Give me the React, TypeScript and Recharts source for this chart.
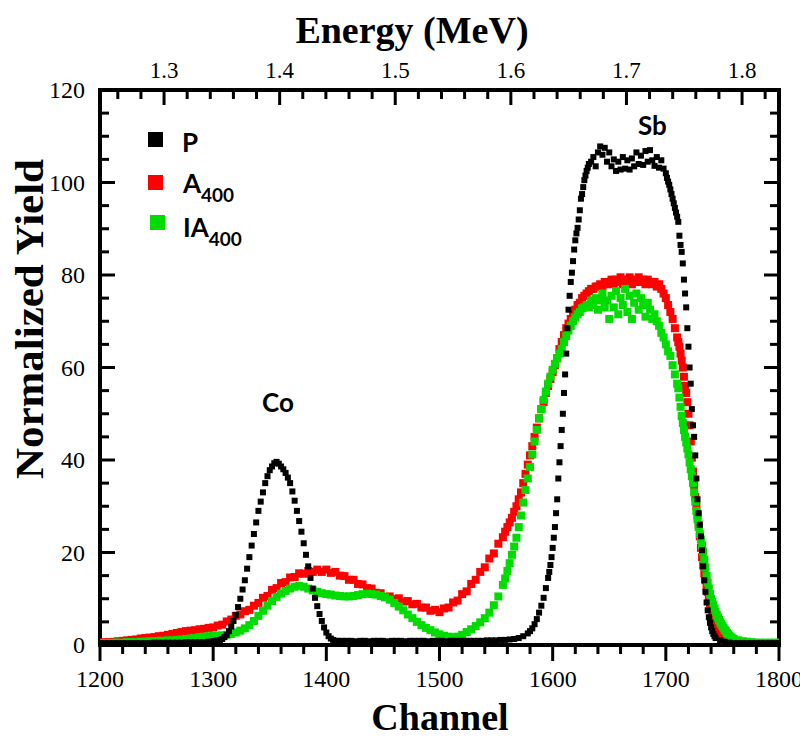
import { ScatterChart, Scatter, XAxis, YAxis, ReferenceArea } from "recharts";

// runs of [first channel, channel step, yields]
type Run = [number, number, number[]];

const P_RUNS: Run[] = [
  [1200, 4, [0.4, 0.4, 0.4, 0.4, 0.4, 0.4, 0.4, 0.4, 0.4, 0.4, 0.4, 0.4, 0.5, 0.5, 0.5, 0.5, 0.5, 0.5, 0.5, 0.6, 0.6, 0.6, 0.6, 0.6, 0.7]],
  [1298, 2, [0.7, 0.8, 0.9, 1.0, 1.1, 1.3, 1.7, 2.2, 3.0, 4.0, 5.2, 6.5, 8.2, 10, 12, 14, 16.5, 19, 21.5, 24, 26.5, 29, 31, 33, 35, 36.5, 37.8, 38.6, 39.3, 39.6, 39.2, 38.6, 38.0, 37.2, 36.2, 35.0, 33.2, 31.2, 29.0, 26.8, 24.5, 22.0, 19.5, 17.0, 14.5, 12.2, 10.2, 8.4, 6.7, 5.2, 3.8, 2.7, 1.9, 1.4, 1.1, 0.9, 0.9]],
  [1414, 4, [0.9, 0.9, 0.9, 0.8, 0.9, 0.9, 0.8, 0.9, 0.9, 0.9, 0.8, 0.9, 0.9, 0.9, 0.8, 0.9, 0.9, 0.9, 0.9, 0.8, 0.9, 0.9, 0.9, 0.8, 0.9, 0.9, 0.9, 0.9, 0.9, 0.9, 0.9, 0.9, 1.0, 1.0, 1.0, 1.1, 1.1, 1.2, 1.3, 1.5, 1.9, 2.5]],
  [1580, 2, [3.0, 3.6, 4.5, 5.6, 7.0, 8.5, 10.2, 12.3, 14.5]],
  [1597, 1, [15.8, 17.3, 19.0, 21.0, 23.2, 25.5, 28.5, 31.5, 36, 39.5, 43, 46.5, 50, 54.5, 58.5, 63, 68.5, 72.5, 75.5, 78.5, 80.5, 83, 85.5, 87.5, 89, 90.2, 92, 94, 96.5, 97.5, 99, 100.5, 101.5, 102.5, 103.2, 104]],
  [1634, 2, [104.5, 105.5, 103.5, 106.5, 107.8, 106, 107.5, 104.5, 106.5, 103.5, 105, 102.5, 104.5, 102.8, 105.5, 103, 104.8, 102.8, 105.2, 103.5, 106.5, 104, 105.8, 103.8, 106.8, 104.5, 107, 104.8, 103.6, 105.5, 103.2, 104.8, 103, 102]],
  [1701, 1, [101, 100.2, 99.5, 98.5, 97.5, 96.5, 95.5, 94.5, 93.5, 92.6, 91.5, 88.5, 86.5, 85, 82.5, 79, 76, 73, 68.5, 64.5, 60, 56.5, 51, 47.5, 45, 41, 36, 31.5, 28.5, 26, 23.5, 20.5, 17, 14, 11.5, 9.2, 7.5, 6, 4.8, 3.8, 3, 2.4, 1.9, 1.5]],
  [1748, 4, [1.0, 0.7, 0.5, 0.4, 0.4, 0.4, 0.4, 0.4, 0.4, 0.4, 0.4, 0.4, 0.4, 0.4]],
];

const A400_RUNS: Run[] = [
  [1200, 4, [0.5, 0.6, 0.6, 0.7, 0.8, 0.9, 1.0, 1.1, 1.2, 1.4, 1.5, 1.6, 1.7, 1.9, 2.0, 2.2, 2.4, 2.6, 2.8, 3.0, 3.1, 3.2, 3.4, 3.5, 3.7]],
  [1300, 4, [3.8, 4.2, 4.4, 5.1, 5.5, 6.3, 6.6, 7.3, 7.6, 8.5, 9.1, 10.2, 10.6, 11.9, 12.3, 13.4, 13.6, 14.6, 14.7, 15.5, 15.4, 16.0, 15.8, 16.3, 15.8, 16.3, 15.6, 15.8, 15.0, 14.9, 14.1, 14.1, 13.2, 13.1, 12.3, 12.2, 11.3, 11.2, 10.4, 10.5, 9.9, 10.1, 9.4, 9.5, 8.8, 8.9, 8.1, 8.1, 7.4, 7.6, 7.1, 7.9, 8.1, 9.2, 9.6, 11.0, 11.6, 13.2, 14.1, 15.8, 16.8, 18.7, 19.8, 21.9, 23.3]],
  [1558, 2, [24.5, 25.5, 26.5, 27.5, 28.8, 30, 31.5, 33, 35, 37, 39, 41, 43, 45, 47, 49, 51, 52.5, 54.5, 56, 57.5, 59, 60.5, 62, 64, 65.5, 67, 68.5, 69.5, 70.5, 71.5, 72.5, 73.5, 74, 75, 75.5, 76, 76.5, 77, 77, 77.5, 77.5, 78, 77.5, 78.5, 78, 78.5, 79, 78, 79, 78.5, 79.5, 78, 79, 78.5, 79.5, 78, 79, 78.5, 79.5, 78.5, 79, 78, 79, 78.5, 78, 78.5, 77.5, 78, 77, 76, 75, 73.5, 72, 70.5, 68.5, 66.5]],
  [1711, 1, [65.5, 64.5, 63, 61.5, 60, 58, 56, 54.5, 52.5, 50, 47.5, 44, 40.5, 37.5, 34.5, 32, 30, 28, 26, 23.5, 21, 19, 17.2, 15.5, 14, 12.8, 11.5, 10.2, 9, 8, 7, 6, 5, 4.2, 3.5, 2.9, 2.4, 2, 1.6, 1.3]],
  [1752, 4, [1.0, 0.7, 0.5, 0.5, 0.4, 0.4, 0.4, 0.4, 0.4, 0.4, 0.4, 0.4, 0.4]],
];

const IA400_RUNS: Run[] = [
  [1200, 4, [0.4, 0.4, 0.4, 0.5, 0.5, 0.5, 0.6, 0.6, 0.6, 0.7, 0.7, 0.8, 0.8, 0.9, 0.9, 1.0, 1.0, 1.1, 1.2, 1.3, 1.4, 1.5, 1.7, 1.8, 1.9]],
  [1300, 4, [2.0, 2.0, 2.1, 2.2, 2.4, 2.7, 3.1, 3.6, 4.3, 5.2, 6.3, 7.4, 8.5, 9.5, 10.4, 11.1, 11.7, 12.2, 12.6, 12.8, 12.6, 12.2, 11.8, 11.5, 11.2, 11.0, 10.9, 10.7, 10.6, 10.5, 10.5, 10.6, 10.8, 11.0, 11.1, 11.0, 10.9, 10.6, 10.3, 9.8, 9.1, 8.3, 7.5, 6.6, 5.8, 5.0, 4.3, 3.7, 3.2, 2.7, 2.3, 2.0, 1.8, 1.7, 1.8, 2.2, 2.8, 3.4, 4.1, 4.9, 5.8, 7.0, 8.6, 10.5, 13.0]],
  [1558, 2, [14.4, 16, 17.7, 19.5, 21.3, 23.2, 25.5, 28, 30.8, 33.5, 36, 38.5, 41.2, 44, 46.5, 49, 51, 53, 54.8, 56.5, 58, 59.5, 60.8, 62, 63, 64, 65.5, 66.8, 68, 69, 70, 70.8, 71.5, 72, 72.8, 73, 73.5, 73, 74.5, 73.5, 75, 72.5, 74.5, 76, 73, 74.5, 70.5, 75.5, 73, 76.5, 71.5, 75, 73.5, 77, 72, 75.5, 70.5, 74, 76, 72.5, 75, 73.5, 71, 74, 72.5, 70.5, 71.5, 70, 69, 67.5, 66.5, 65, 63.5, 62.5, 60.5, 58.5, 56.5]],
  [1711, 1, [55.5, 53.5, 51.5, 49.5, 48, 46.5, 45, 43.8, 42.5, 41.2, 39.5, 38, 36.5, 35, 33, 31, 29, 27.2, 25.5, 24, 22.8, 21.5, 20.2, 18.5, 16.8, 15, 13.5, 12.2, 11, 10, 9.3, 8.6, 7.9, 7.2, 6.5, 6, 5.4, 4.9, 4.5, 4.1, 3.7, 3.3, 3, 2.6, 2.3, 2, 1.8, 1.6, 1.4, 1.3]],
  [1764, 4, [1.0, 0.8, 0.7, 0.6, 0.5, 0.5, 0.5, 0.5, 0.5, 0.5]],
];

const CHANNEL_TICKS = [1200, 1220, 1240, 1260, 1280, 1300, 1320, 1340, 1360, 1380, 1400, 1420, 1440, 1460, 1480, 1500, 1520, 1540, 1560, 1580, 1600, 1620, 1640, 1660, 1680, 1700, 1720, 1740, 1760, 1780, 1800];
const YIELD_TICKS = [0, 5, 10, 15, 20, 25, 30, 35, 40, 45, 50, 55, 60, 65, 70, 75, 80, 85, 90, 95, 100, 105, 110, 115, 120];
const ENERGY_TICKS = [1.26, 1.28, 1.3, 1.32, 1.34, 1.36, 1.38, 1.4, 1.42, 1.44, 1.46, 1.48, 1.5, 1.52, 1.54, 1.56, 1.58, 1.6, 1.62, 1.64, 1.66, 1.68, 1.7, 1.72, 1.74, 1.76, 1.78, 1.8, 1.82];
// energy calibration of the top axis: channel of 1.3 MeV and channels per MeV
const CH_AT_1_3 = 1256.6;
const CH_PER_MEV = 1021.5;

const X_DOMAIN = [1200, 1800];
const Y_DOMAIN = [0, 120];
// plot box in px, used to turn tick lengths into data units
const PLOT_W = 679;
const PLOT_H = 555;
const CH_PER_PX = (X_DOMAIN[1] - X_DOMAIN[0]) / PLOT_W;
const Y_PER_PX = (Y_DOMAIN[1] - Y_DOMAIN[0]) / PLOT_H;

const SERIF = "'Liberation Serif', 'Times New Roman', serif";
const SANS = "Lato, 'Noto Sans', sans-serif";
const RED = "#ff0000";
const GREEN = "#00dc00";

const expand = (runs: Run[]) => {
  const out: { x: number; y: number }[] = [];
  runs.forEach(([start, step, vals]) =>
    vals.forEach((v, i) => out.push({ x: start + step * i, y: v }))
  );
  return out;
};

const energyToChannel = (e: number) => CH_AT_1_3 + (e - 1.3) * CH_PER_MEV;
const channelToEnergy = (c: number) => 1.3 + (c - CH_AT_1_3) / CH_PER_MEV;
const isMajorEnergy = (c: number) => Math.round(channelToEnergy(c) * 100) % 10 === 0;

const square = (size: number, fill: string) => (p: any) => (
  <rect x={p.cx - size / 2} y={p.cy - size / 2} width={size} height={size} fill={fill} />
);

const tickText = (size: number) => ({ fontFamily: SERIF, fontSize: size, fill: "#000" });

// axis tick labels (tick marks are drawn as reference areas below)
const BottomTick = ({ x, y, payload }: any) =>
  payload.value % 100 === 0 ? (
    <text x={x} y={y + 42} textAnchor="middle" fontFamily={SERIF} fontSize={24} style={tickText(24)}>
      {payload.value}
    </text>
  ) : (
    <g />
  );

const TopTick = ({ x, y, payload }: any) =>
  isMajorEnergy(payload.value) ? (
    <text x={x} y={y - 12} textAnchor="middle" fontFamily={SERIF} fontSize={23} style={tickText(23)}>
      {channelToEnergy(payload.value).toFixed(1)}
    </text>
  ) : (
    <g />
  );

const LeftTick = ({ x, y, payload }: any) =>
  payload.value % 20 === 0 ? (
    <text x={x - 15} y={y + 8} textAnchor="end" fontFamily={SERIF} fontSize={24} style={tickText(24)}>
      {payload.value}
    </text>
  ) : (
    <g />
  );

const axisCommon = {
  type: "number" as const,
  allowDataOverflow: true,
  interval: 0 as const,
  tickSize: 0,
  tickMargin: 0,
  tickLine: false,
  axisLine: false,
};

const TW = 3; // tick thickness, px
const FW = 4; // frame thickness, px

type Box = [number, number, number, number]; // x1, x2, y1, y2 in data units

const tickBoxes = (energyTicks: number[]): Box[] => {
  const hx = (TW / 2) * CH_PER_PX;
  const hy = (TW / 2) * Y_PER_PX;
  const boxes: Box[] = [];
  CHANNEL_TICKS.forEach((c) => {
    const len = (c % 100 === 0 ? 16 : 9) * Y_PER_PX;
    boxes.push([c - hx, c + hx, Y_DOMAIN[0] - len, Y_DOMAIN[0]]);
  });
  energyTicks.forEach((c) => {
    const len = (isMajorEnergy(c) ? 15 : 9) * Y_PER_PX;
    boxes.push([c - hx, c + hx, Y_DOMAIN[1] - len, Y_DOMAIN[1]]);
  });
  YIELD_TICKS.forEach((v) => {
    const len = (v % 20 === 0 ? 15 : 9) * CH_PER_PX;
    boxes.push([X_DOMAIN[0], X_DOMAIN[0] + len, v - hy, v + hy]);
    boxes.push([X_DOMAIN[1] - len, X_DOMAIN[1], v - hy, v + hy]);
  });
  return boxes;
};

const frameBoxes = (): Box[] => {
  const fx = (FW / 2) * CH_PER_PX;
  const fy = (FW / 2) * Y_PER_PX;
  const [x0, x1] = X_DOMAIN;
  const [y0, y1] = Y_DOMAIN;
  return [
    [x0 - fx, x1 + fx, y0 - fy, y0 + fy],
    [x0 - fx, x1 + fx, y1 - fy, y1 + fy],
    [x0 - fx, x0 + fx, y0 - fy, y1 + fy],
    [x1 - fx, x1 + fx, y0 - fy, y1 + fy],
  ];
};

export default function App() {
  const p = expand(P_RUNS);
  const a400 = expand(A400_RUNS);
  const ia400 = expand(IA400_RUNS);
  const energyTicks = ENERGY_TICKS.map(energyToChannel);
  const boxes = [...frameBoxes(), ...tickBoxes(energyTicks)];

  return (
    <div style={{ position: "relative", width: 800, height: 734, background: "#fff" }}>
      <ScatterChart width={800} height={734} margin={{ top: 0, right: 0, bottom: 0, left: 0 }}>
        <XAxis
          {...axisCommon}
          xAxisId="ch"
          dataKey="x"
          orientation="bottom"
          domain={X_DOMAIN}
          ticks={CHANNEL_TICKS}
          height={97}
          tick={(props: any) => <BottomTick {...props} />}
        />
        <XAxis
          {...axisCommon}
          xAxisId="top"
          dataKey="x"
          orientation="top"
          domain={X_DOMAIN}
          ticks={energyTicks}
          height={82}
          tick={(props: any) => <TopTick {...props} />}
        />
        <YAxis
          {...axisCommon}
          yAxisId="y"
          dataKey="y"
          domain={Y_DOMAIN}
          ticks={YIELD_TICKS}
          width={92}
          tick={(props: any) => <LeftTick {...props} />}
        />
        <YAxis
          {...axisCommon}
          yAxisId="r"
          dataKey="y"
          orientation="right"
          domain={Y_DOMAIN}
          ticks={YIELD_TICKS}
          width={29}
          tick={false}
        />
        {boxes.map(([x1, x2, y1, y2], i) => (
          <ReferenceArea
            key={i}
            xAxisId="ch"
            yAxisId="y"
            x1={x1}
            x2={x2}
            y1={y1}
            y2={y2}
            fill="#000"
            fillOpacity={1}
            stroke="none"
            ifOverflow="visible"
          />
        ))}
        <Scatter xAxisId="ch" yAxisId="y" data={a400} shape={square(8, RED)} isAnimationActive={false} />
        <Scatter xAxisId="ch" yAxisId="y" data={ia400} shape={square(8, GREEN)} isAnimationActive={false} />
        {/* same domains as ch / y, bound to the top and right axes so they get drawn */}
        <Scatter xAxisId="top" yAxisId="r" data={p} shape={square(6, "#000")} isAnimationActive={false} />
      </ScatterChart>

      <svg
        width={800}
        height={734}
        style={{ position: "absolute", left: 0, top: 0, pointerEvents: "none" }}
      >
        <text x={404} y={35} textAnchor="middle" fontFamily={SERIF} fontWeight="bold" fontSize={38}>
          Energy (MeV)
        </text>
        <text x={432} y={722} textAnchor="middle" fontFamily={SERIF} fontWeight="bold" fontSize={38}>
          Channel
        </text>
        <text
          transform="translate(35, 311) rotate(-90)"
          textAnchor="middle"
          fontFamily={SERIF}
          fontWeight="bold"
          fontSize={40}
          textLength={320}
          lengthAdjust="spacingAndGlyphs"
        >
          Normalized Yield
        </text>

        <g fontFamily={SANS} fontWeight="bold" fontSize={26} fill="#000">
          <rect x={140} y={124} width={15} height={15} fill="#000" />
          <text x={174} y={144}>P</text>
          <rect x={140} y={167} width={15} height={15} fill={RED} />
          <text x={175} y={185}>
            A<tspan fontSize={19} dy={9}>400</tspan>
          </text>
          <rect x={142} y={207} width={15} height={15} fill={GREEN} />
          <text x={175} y={229}>
            IA<tspan fontSize={19} dy={9}>400</tspan>
          </text>
          <text x={254} y={404}>Co</text>
          <text x={630} y={127}>Sb</text>
        </g>
      </svg>
    </div>
  );
}
